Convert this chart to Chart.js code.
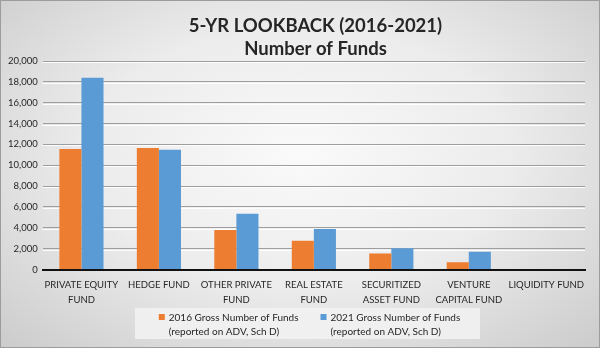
<!DOCTYPE html>
<html>
<head>
<meta charset="utf-8">
<script src="https://cdn.jsdelivr.net/npm/chart.js@4.4.0/dist/chart.umd.min.js"></script>
<style>
  html, body { margin: 0; padding: 0; }
  #wrap {
    width: 598px; height: 346px;
    border: 1px solid #9c9c9c;
    background: radial-gradient(ellipse 70% 75% at 50% 45%, #fafafa 0%, #ececec 50%, #cdcdcd 100%);
  }
  canvas { display: block; }
</style>
</head>
<body>
<div id="wrap"><canvas id="chart" width="598" height="346"></canvas></div>
<script>
const categories = [
  ['PRIVATE EQUITY', 'FUND'],
  'HEDGE FUND',
  ['OTHER PRIVATE', 'FUND'],
  ['REAL ESTATE', 'FUND'],
  ['SECURITIZED', 'ASSET FUND'],
  ['VENTURE', 'CAPITAL FUND'],
  'LIQUIDITY FUND'
];
const funds2016 = [11550, 11650, 3800, 2750, 1550, 700, 0];
const funds2021 = [18400, 11500, 5350, 3900, 2050, 1700, 0];
const seriesLabels = [
  ['2016 Gross Number of Funds', '(reported on ADV, Sch D)'],
  ['2021 Gross Number of Funds', '(reported on ADV, Sch D)']
];
const titleLines = ['5-YR LOOKBACK (2016-2021)', 'Number of Funds'];

const FONT = 'Lato, "Open Sans", sans-serif';
const TEXT = '#262626';

// title sits a bit right of centre in the original, so draw it by hand
const titleText = {
  id: 'titleText',
  afterDraw(chart) {
    const ctx = chart.ctx;
    ctx.save();
    ctx.font = 'bold 18.5px ' + FONT;
    ctx.fillStyle = TEXT;
    ctx.textAlign = 'center';
    ctx.textBaseline = 'alphabetic';
    ctx.fillText(titleLines[0], 314.5, 31);
    ctx.fillText(titleLines[1], 314.5, 54);
    ctx.restore();
  }
};

// white highlight under each gridline (embossed look)
const gridShine = {
  id: 'gridShine',
  beforeDatasetsDraw(chart) {
    const { ctx, chartArea, scales } = chart;
    ctx.save();
    ctx.strokeStyle = 'rgba(255,255,255,0.9)';
    ctx.lineWidth = 1;
    scales.y.ticks.forEach(t => {
      if (t.value === 0) return;
      const y = Math.round(scales.y.getPixelForValue(t.value)) + 1.5;
      ctx.beginPath();
      ctx.moveTo(chartArea.left, y);
      ctx.lineTo(chartArea.right, y);
      ctx.stroke();
    });
    ctx.restore();
  }
};

// legend drawn by hand, since labels are two lines each
const legendBox = {
  id: 'legendBox',
  afterDraw(chart) {
    const ctx = chart.ctx;
    const sets = chart.data.datasets;
    ctx.save();
    ctx.fillStyle = 'rgba(242,242,242,0.85)';
    ctx.fillRect(134, 307, 345, 31);
    ctx.font = '10px ' + FONT;
    ctx.textBaseline = 'middle';
    const box = 6, gap = 4, between = 22;
    const widths = sets.map(s => Math.max(...s.label.map(t => ctx.measureText(t).width)));
    const total = widths.reduce((a, w) => a + box + gap + w, 0) + between * (sets.length - 1);
    let x = 308.5 - total / 2;
    sets.forEach((s, i) => {
      ctx.fillStyle = s.backgroundColor;
      ctx.fillRect(x, 313, box, box);
      ctx.fillStyle = TEXT;
      ctx.fillText(s.label[0], x + box + gap, 316.5);
      ctx.fillText(s.label[1], x + box + gap, 330.5);
      x += box + gap + widths[i] + between;
    });
    ctx.restore();
  }
};

new Chart(document.getElementById('chart'), {
  type: 'bar',
  data: {
    labels: categories,
    datasets: [
      { label: seriesLabels[0], data: funds2016, backgroundColor: '#ED7D31' },
      { label: seriesLabels[1], data: funds2021, backgroundColor: '#5B9BD5' }
    ]
  },
  options: {
    responsive: false,
    animation: false,
    layout: { padding: { left: 2, right: 14, top: 60, bottom: 40 } },
    datasets: { bar: { barPercentage: 1, categoryPercentage: 0.57 } },
    plugins: {
      legend: { display: false },
      tooltip: { enabled: false },
      title: { display: false }
    },
    scales: {
      x: {
        grid: { display: false },
        border: { color: '#111', width: 2 },
        ticks: {
          color: TEXT,
          font: { family: FONT, size: 9.5, lineHeight: 1.55 },
          maxRotation: 0, autoSkip: false, padding: 0
        }
      },
      y: {
        min: 0, max: 20000,
        ticks: {
          stepSize: 2000,
          color: TEXT,
          font: { family: FONT, size: 9.5 },
          padding: 5,
          callback: v => v.toLocaleString('en-US')
        },
        grid: { color: '#9e9e9e', drawTicks: false },
        border: { display: false }
      }
    }
  },
  plugins: [titleText, gridShine, legendBox]
});
</script>
</body>
</html>
